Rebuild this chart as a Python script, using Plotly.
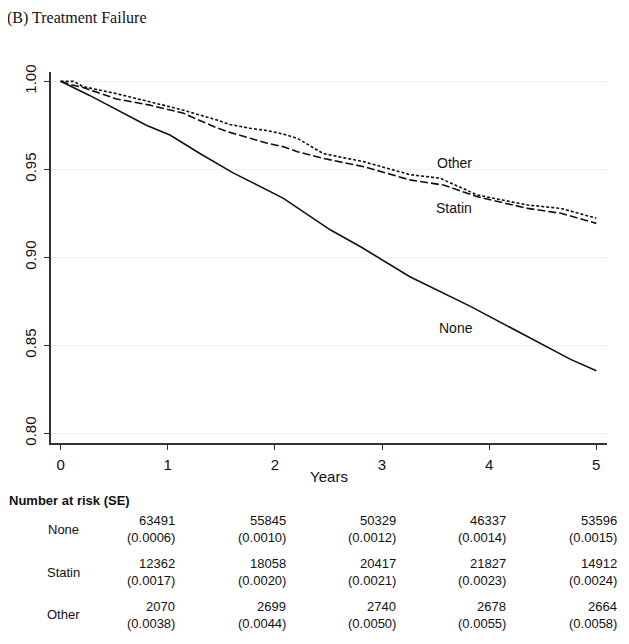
import plotly.graph_objects as go

# Kaplan-Meier style curves
years_none = [0, 0.27, 0.80, 1.02, 1.30, 1.61, 2.08, 2.52, 2.80, 3.26, 3.83, 4.29, 4.76, 5.0]
surv_none = [1.0, 0.992, 0.975, 0.9695, 0.959, 0.948, 0.9335, 0.9155, 0.906, 0.889, 0.872, 0.857, 0.842, 0.8356]

years_statin = [0, 0.10, 0.21, 0.52, 0.83, 1.14, 1.46, 1.58, 1.77, 1.93, 2.08, 2.21, 2.45, 2.83, 3.26, 3.58, 3.89, 4.36, 4.67, 5.0]
surv_statin = [1.0, 0.998, 0.9965, 0.990, 0.9865, 0.982, 0.9735, 0.971, 0.9676, 0.9648, 0.9628, 0.960, 0.9562, 0.9515, 0.944, 0.941, 0.9344, 0.9278, 0.925, 0.9193]

years_other = [0, 0.12, 0.21, 0.52, 0.83, 1.14, 1.46, 1.58, 1.77, 1.93, 2.08, 2.21, 2.45, 2.83, 3.26, 3.54, 3.89, 4.36, 4.67, 5.0]
surv_other = [1.0, 1.0, 0.997, 0.993, 0.9884, 0.9837, 0.978, 0.9755, 0.9733, 0.972, 0.970, 0.9676, 0.959, 0.9543, 0.947, 0.945, 0.9354, 0.9297, 0.9278, 0.9222]

# number at risk table
groups = ["None", "Statin", "Other"]
at_risk = {
    "None": [63491, 55845, 50329, 46337, 53596],
    "Statin": [12362, 18058, 20417, 21827, 14912],
    "Other": [2070, 2699, 2740, 2678, 2664],
}
at_risk_se = {
    "None": ["0.0006", "0.0010", "0.0012", "0.0014", "0.0015"],
    "Statin": ["0.0017", "0.0020", "0.0021", "0.0023", "0.0024"],
    "Other": ["0.0038", "0.0044", "0.0050", "0.0055", "0.0058"],
}

x_ticks = [0, 1, 2, 3, 4, 5]
y_ticks = [0.80, 0.85, 0.90, 0.95, 1.00]

# the page puts the plot 8px in from the top-left corner, so lay out 8px earlier
OFF = 8
W, H = 629, 644
L, T = 51 - OFF, 72 - OFF
R, B = W - (607 - OFF), H - (443 - OFF)
PW, PH = W - L - R, H - T - B


def px_x(px):
    return (px - OFF - L) / PW


def px_y(py):
    return (H - B - (py - OFF)) / PH


SANS = "Liberation Sans, Arial, sans-serif"

fig = go.Figure()

fig.add_trace(go.Scatter(x=years_none, y=surv_none, mode="lines",
                         line=dict(color="#111", width=1.6), name="None"))
fig.add_trace(go.Scatter(x=years_statin, y=surv_statin, mode="lines",
                         line=dict(color="#111", width=1.6, dash="8px,3px"), name="Statin"))
fig.add_trace(go.Scatter(x=years_other, y=surv_other, mode="lines",
                         line=dict(color="#111", width=1.6, dash="3px,2px"), name="Other"))

# curve labels
for txt, xv, yv in [("Other", 3.68, 0.9535), ("Statin", 3.67, 0.928), ("None", 3.69, 0.860)]:
    fig.add_annotation(x=xv, y=yv, text=txt, showarrow=False,
                       font=dict(family=SANS, size=14, color="#111"))

# title
fig.add_annotation(xref="paper", yref="paper", x=px_x(5), y=px_y(18), text="(B) Treatment Failure",
                   xanchor="left", yanchor="middle", showarrow=False,
                   font=dict(family="Liberation Serif, Times New Roman, serif", size=16, color="#111"))

# number at risk block
fig.add_annotation(xref="paper", yref="paper", x=px_x(7), y=px_y(500), text="<b>Number at risk (SE)</b>",
                   xanchor="left", yanchor="middle", showarrow=False,
                   font=dict(family=SANS, size=13, color="#111"))

col_right = [177, 288, 398, 508, 619]
row_top = [520, 563, 606]
row_label_y = [529, 572, 614]
for gi, g in enumerate(groups):
    fig.add_annotation(xref="paper", yref="paper", x=px_x(63), y=px_y(row_label_y[gi]), text=g,
                       xanchor="center", yanchor="middle", showarrow=False,
                       font=dict(family=SANS, size=13, color="#111"))
    for ci in range(5):
        fig.add_annotation(xref="paper", yref="paper", x=px_x(col_right[ci]), y=px_y(row_top[gi]),
                           text=str(at_risk[g][ci]), xanchor="right", yanchor="middle", showarrow=False,
                           font=dict(family=SANS, size=13, color="#111"))
        fig.add_annotation(xref="paper", yref="paper", x=px_x(col_right[ci]), y=px_y(row_top[gi] + 17),
                           text="(" + at_risk_se[g][ci] + ")", xanchor="right", yanchor="middle",
                           showarrow=False, font=dict(family=SANS, size=13, color="#111"))

fig.update_layout(
    width=W, height=H,
    margin=dict(l=L, r=R, t=T, b=B),
    paper_bgcolor="white", plot_bgcolor="white",
    showlegend=False,
    font=dict(family=SANS, size=15, color="#111"),
    xaxis=dict(range=[-0.09, 5.1], tickvals=x_ticks, ticks="outside", ticklen=5, tickwidth=1.2,
               tickcolor="#333", showline=True, linecolor="#333", linewidth=1.5, showgrid=False,
               zeroline=False, ticklabelstandoff=2, tickfont=dict(size=15),
               title=dict(text="Years", standoff=0, font=dict(size=15))),
    yaxis=dict(range=[0.7945, 1.0053], tickvals=y_ticks, tickformat=".2f", tickangle=-90,
               ticks="outside", ticklen=5, tickwidth=1.2, tickcolor="#333", showline=True,
               linecolor="#333", linewidth=1.5, showgrid=True, gridcolor="#efefef", gridwidth=1,
               zeroline=False, ticklabelstandoff=2, tickfont=dict(size=15)),
)

fig.write_html("out.html")
